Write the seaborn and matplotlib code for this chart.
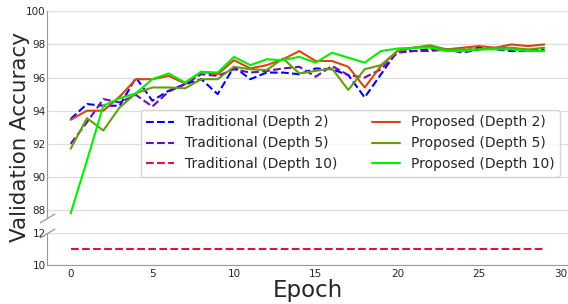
import matplotlib
matplotlib.use("Agg")
import matplotlib.pyplot as plt
import seaborn as sns

# ---------------- data ----------------
epochs = list(range(30))

trad_d2 = [93.5, 94.4, 94.3, 94.3, 96.0, 94.6, 95.2, 95.6, 95.9, 95.0,
           96.65, 95.9, 96.3, 96.3, 96.2, 96.55, 96.5, 96.15, 94.8, 96.2,
           97.6, 97.6, 97.7, 97.7, 97.6, 97.8, 97.7, 97.6, 97.6, 97.7]
trad_d5 = [92.0, 93.3, 94.7, 94.5, 94.95, 94.25, 95.15, 95.6, 96.2, 96.1,
           96.5, 96.3, 96.4, 96.55, 96.65, 96.05, 96.7, 96.15, 96.0, 96.5,
           97.5, 97.6, 97.6, 97.7, 97.5, 97.7, 97.8, 97.7, 97.6, 97.7]
trad_d10 = [11.0, 11.0, 11.0, 11.0, 11.0, 11.0, 11.0, 11.0, 11.0, 11.0,
            11.0, 11.0, 11.0, 11.0, 11.0, 11.0, 11.0, 11.0, 11.0, 11.0,
            11.0, 11.0, 11.0, 11.0, 11.0, 11.0, 11.0, 11.0, 11.0, 11.0]
prop_d2 = [93.45, 94.0, 94.0, 94.85, 95.9, 95.9, 96.1, 95.65, 96.35, 96.2,
           97.05, 96.55, 96.75, 97.1, 97.6, 97.0, 97.0, 96.65, 95.4, 96.7,
           97.6, 97.8, 97.9, 97.7, 97.8, 97.9, 97.8, 98.0, 97.9, 98.0]
prop_d5 = [91.7, 93.55, 92.8, 94.2, 95.05, 95.4, 95.4, 95.35, 95.9, 95.9,
           96.65, 96.5, 96.45, 97.15, 96.25, 96.4, 96.55, 95.25, 96.5, 96.75,
           97.6, 97.8, 97.95, 97.7, 97.7, 97.7, 97.8, 97.8, 97.7, 97.8]
prop_d10 = [87.8, 91.0, 94.3, 94.75, 95.05, 95.9, 96.25, 95.7, 96.35, 96.3,
            97.25, 96.75, 97.1, 97.05, 97.25, 96.9, 97.5, 97.2, 96.9, 97.6,
            97.75, 97.8, 97.8, 97.6, 97.6, 97.7, 97.7, 97.7, 97.6, 97.6]

series = [
    ("Traditional (Depth 2)", trad_d2, "#0000ff", "--"),
    ("Traditional (Depth 5)", trad_d5, "#6a0dad", "--"),
    ("Traditional (Depth 10)", trad_d10, "#dc143c", "--"),
    ("Proposed (Depth 2)", prop_d2, "#d9440f", "-"),
    ("Proposed (Depth 5)", prop_d5, "#62a00a", "-"),
    ("Proposed (Depth 10)", prop_d10, "#00ee00", "-"),
]

# ---------------- plot ----------------
sns.set_style("whitegrid")
plt.rcParams["font.family"] = ["DejaVu Sans"]

fig = plt.figure(figsize=(5.68, 3.04), dpi=100)
ax_top = fig.add_axes([0.0827, 0.2819, 0.9173, 0.6809])
ax_bot = fig.add_axes([0.0827, 0.1283, 0.9173, 0.1062], sharex=ax_top)

for label, vals, color, ls in series:
    for ax in (ax_top, ax_bot):
        sns.lineplot(x=epochs, y=vals, ax=ax, color=color, linestyle=ls,
                     linewidth=1.5, label=label if ax is ax_top else None)

ax_top.set_ylim(87.5, 100)
ax_top.set_yticks([88, 90, 92, 94, 96, 98, 100])
ax_bot.set_ylim(10, 12)
ax_bot.set_yticks([10, 12])
ax_bot.set_xticks([0, 5, 10, 15, 20, 25, 30])

for ax in (ax_top, ax_bot):
    ax.grid(axis="x", visible=False)
    ax.grid(axis="y", color="0.87", linewidth=0.9)
    ax.spines["top"].set_visible(False)
    ax.spines["right"].set_visible(False)
    ax.spines["left"].set_color("0.6")
    ax.spines["bottom"].set_color("0.6")
    ax.tick_params(axis="y", labelsize=7.5, length=0, pad=1)
    ax.tick_params(axis="x", labelsize=7.5, length=2, color="0.6", pad=1)
    ax.set_ylabel("")

ax_top.spines["bottom"].set_visible(False)
ax_top.tick_params(axis="x", bottom=False, labelbottom=False)
ax_top.set_xlabel("")
ax_bot.set_xlabel("Epoch", fontsize=16.5, labelpad=0)

# break marks
kw = dict(marker=[(-1, -0.6), (1, 0.6)], markersize=11, linestyle="none",
          color="0.6", mec="0.6", mew=0.9, clip_on=False)
ax_top.plot([0], [0], transform=ax_top.transAxes, **kw)
ax_bot.plot([0], [1], transform=ax_bot.transAxes, **kw)

fig.text(0.036, 0.55, "Validation Accuracy", rotation=90, va="center",
         ha="center", fontsize=15.4)

ax_top.legend(ncol=2, fontsize=10, loc="lower right",
              bbox_to_anchor=(0.985, 0.2), borderaxespad=0,
              columnspacing=2.5, frameon=True)

fig.savefig("out.png", dpi=100)
